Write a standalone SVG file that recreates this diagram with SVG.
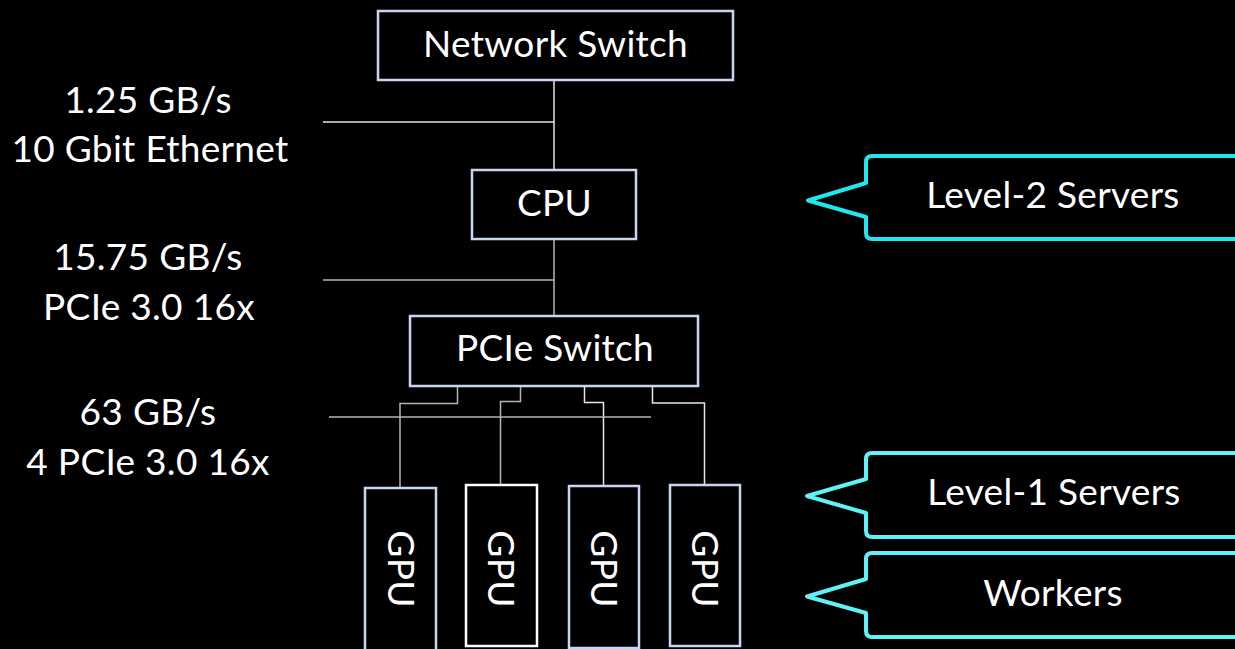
<svg xmlns="http://www.w3.org/2000/svg" width="1235" height="649" viewBox="0 0 1235 649">
<style>
.t{font-family:Lato,"Noto Sans","Liberation Sans",sans-serif;font-size:37px;letter-spacing:0.3px;fill:#ffffff;text-anchor:middle}
.box{fill:#000;stroke:#c9d6f2;stroke-width:2.5}
.gbox{fill:#000;stroke:#c9d6f2;stroke-width:2.5}
.w{stroke:#ffffff}
.ln{fill:none;stroke:#b4b4b4;stroke-width:1.5}
.lw{fill:none;stroke:#e6e6e6;stroke-width:1.5}
.c2{fill:#000;stroke:#1fe6ef;stroke-width:4;stroke-linejoin:round}
.c1{fill:#000;stroke:#5ef3f6;stroke-width:4;stroke-linejoin:round}
</style>
<rect width="1235" height="649" fill="#000"/>
<g id="connectors">
<line class="lw" x1="554" y1="73" x2="554" y2="170"/>
<line class="lw" x1="323" y1="122" x2="554" y2="122"/>
<line class="ln" x1="554" y1="239" x2="554" y2="316"/>
<line class="ln" x1="323" y1="280" x2="554" y2="280"/>
<polyline class="ln" points="457.5,386 457.5,403.5 400,403.5 400,488"/>
<polyline class="ln" points="520.5,386 520.5,401.5 500.5,401.5 500.5,485"/>
<polyline class="lw" points="584.5,386 584.5,402.5 603.5,402.5 603.5,486"/>
<polyline class="lw" points="652.5,386 652.5,403 704.5,403 704.5,485"/>
<line class="ln" x1="329" y1="417" x2="651" y2="417"/>
</g>
<g id="network-switch">
<rect class="box" x="378" y="11" width="355" height="69"/>
<text class="t" x="555.5" y="57">Network Switch</text>
</g>
<g id="cpu">
<rect class="box" x="472" y="170" width="164" height="69"/>
<text class="t" x="554.5" y="216">CPU</text>
</g>
<g id="pcie-switch">
<rect class="box" x="410" y="316" width="288" height="70"/>
<text class="t" x="555" y="361">PCIe Switch</text>
</g>
<g id="gpu1">
<rect class="gbox" x="365" y="488" width="71" height="170"/>
<text class="t" transform="translate(401,569) rotate(90)" x="0" y="13">GPU</text>
</g>
<g id="gpu2">
<rect class="gbox w" x="466" y="485" width="71" height="161"/>
<text class="t" transform="translate(501,569) rotate(90)" x="0" y="13">GPU</text>
</g>
<g id="gpu3">
<rect class="gbox" x="569" y="486" width="70" height="162"/>
<text class="t" transform="translate(604,569) rotate(90)" x="0" y="13">GPU</text>
</g>
<g id="gpu4">
<rect class="gbox" x="670" y="485" width="70" height="161"/>
<text class="t" transform="translate(705,569) rotate(90)" x="0" y="13">GPU</text>
</g>
<g id="label-ethernet">
<text class="t" x="148" y="113">1.25 GB/s</text>
<text class="t" x="150" y="162">10 Gbit Ethernet</text>
</g>
<g id="label-pcie">
<text class="t" x="148" y="270">15.75 GB/s</text>
<text class="t" x="149" y="320">PCIe 3.0 16x</text>
</g>
<g id="label-4pcie">
<text class="t" x="148" y="425">63 GB/s</text>
<text class="t" x="148" y="475">4 PCIe 3.0 16x</text>
</g>
<g id="callout-level2">
<path class="c2" d="M1245,156 L872,156 Q866,156 866,162 L866,183 L808,200.5 L866,217 L866,233 Q866,239 872,239 L1245,239"/>
<text class="t" x="1053" y="208">Level-2 Servers</text>
</g>
<g id="callout-level1">
<path class="c1" d="M1245,453 L872,453 Q866,453 866,459 L866,479 L807,496 L866,513 L866,531 Q866,537 872,537 L1245,537"/>
<text class="t" x="1054" y="505">Level-1 Servers</text>
</g>
<g id="callout-workers">
<path class="c1" d="M1245,553 L872,553 Q866,553 866,559 L866,579 L807,596.5 L866,613 L866,631 Q866,637 872,637 L1245,637"/>
<text class="t" x="1053" y="606">Workers</text>
</g>
</svg>
